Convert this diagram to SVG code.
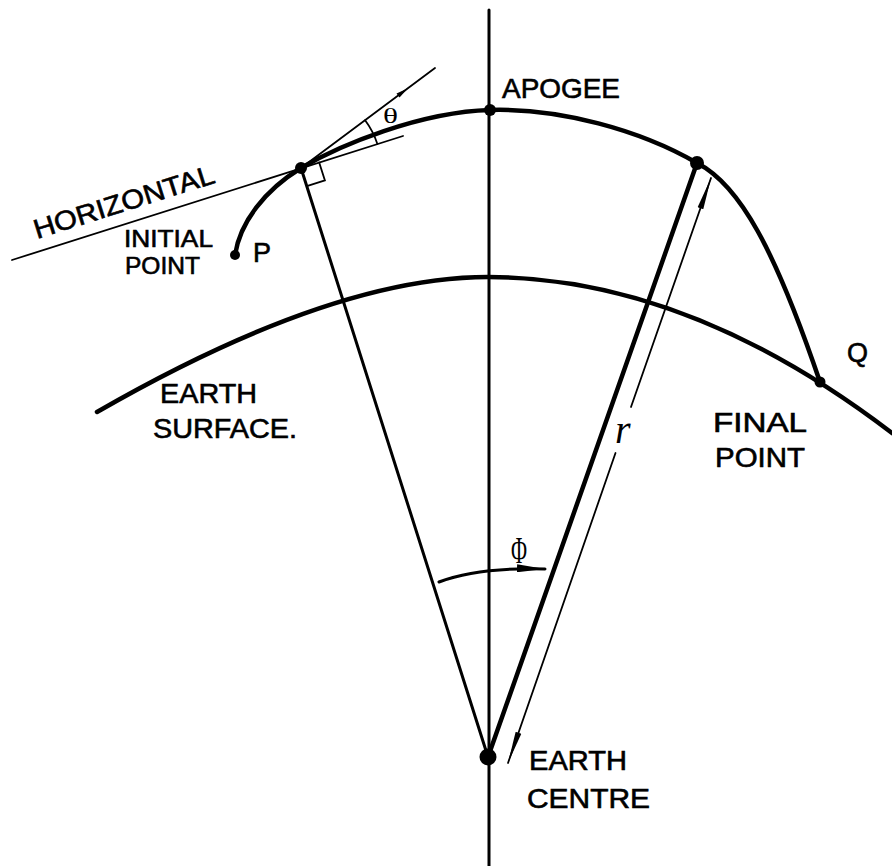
<svg xmlns="http://www.w3.org/2000/svg" width="892" height="866" viewBox="0 0 892 866">
<defs>
<style>
.t{font-family:"Liberation Sans",Arial,sans-serif;font-size:27px;fill:#000;stroke:#000;stroke-width:0.6}
.sm{font-size:23.5px}
.sym{font-family:"Liberation Serif","Times New Roman",serif;fill:#000}
.heavy{fill:none;stroke:#000;stroke-width:4.5;stroke-linecap:round;stroke-linejoin:round}
.med{fill:none;stroke:#000;stroke-width:3;stroke-linecap:round}
.thin{fill:none;stroke:#000;stroke-width:1.8;stroke-linecap:round}
.dot{fill:#000}
</style>
<marker id="arrR" viewBox="0 0 32 8" refX="32" refY="4" markerWidth="32" markerHeight="8" markerUnits="userSpaceOnUse" orient="auto-start-reverse"><path d="M0,1 L32,4 L0,7 z" fill="#000"/></marker>
<marker id="arrPhi" viewBox="0 0 28 8" refX="28" refY="4" markerWidth="28" markerHeight="8" markerUnits="userSpaceOnUse" orient="auto"><path d="M0,0 L28,4 L0,8 z" fill="#000"/></marker>
</defs>
<rect width="892" height="866" fill="#fff"/>

<g id="connectors">
  <line class="med" x1="489" y1="10" x2="489" y2="866"/>
  <path id="earth-surface" class="heavy" d="M97,412 C210,347 360,277 488,277 C650,277 790,355 892,433"/>
  <path id="trajectory" class="heavy" d="M235,255 C240,222 265,190 301,168 C340,145 420,112 490,110 C560,108 640,130 697,163 C740,185 775,250 820,382"/>
  <line class="med" x1="301" y1="168" x2="488" y2="757"/>
  <line class="heavy" stroke-width="4" x1="697" y1="163" x2="488" y2="757"/>
  <line class="thin" x1="12" y1="260" x2="403" y2="136"/>
  <line class="thin" x1="301" y1="168" x2="435" y2="68"/>
  <path d="M408,88.2 L396.5,93.6 L399.5,97.6 Z" fill="#000"/>
  <polyline class="thin" points="319.1,162.3 324.9,180.4 306.8,186.1"/>
  <path class="thin" d="M365.1,120.2 A80,80 0 0 1 377.3,143.8"/>
  <line class="thin" x1="631" y1="407" x2="711" y2="178" marker-end="url(#arrR)"/>
  <line class="thin" x1="615.5" y1="453" x2="508" y2="763" marker-end="url(#arrR)"/>
  <path class="med" d="M439,582 Q478,567 545,569" marker-end="url(#arrPhi)"/>
</g>

<g id="apogee">
  <circle class="dot" cx="490" cy="110" r="6"/>
  <text class="t" x="502" y="98" textLength="118" lengthAdjust="spacingAndGlyphs">APOGEE</text>
</g>

<g id="launch-point">
  <circle class="dot" cx="301" cy="168" r="6"/>
</g>

<g id="burnout-point">
  <circle class="dot" cx="697" cy="163" r="7"/>
</g>

<g id="initial-point">
  <circle class="dot" cx="235" cy="255" r="5"/>
  <text class="t sm" x="124" y="247" textLength="89" lengthAdjust="spacingAndGlyphs">INITIAL</text>
  <text class="t sm" x="125" y="274" textLength="75" lengthAdjust="spacingAndGlyphs">POINT</text>
  <text class="t" x="253" y="262">P</text>
</g>

<g id="final-point">
  <circle class="dot" cx="820" cy="382" r="5.5"/>
  <text class="t" x="847" y="362">Q</text>
  <text class="t" x="713" y="432" textLength="94" lengthAdjust="spacingAndGlyphs">FINAL</text>
  <text class="t" x="715" y="467" textLength="90" lengthAdjust="spacingAndGlyphs">POINT</text>
</g>

<g id="earth-centre">
  <circle class="dot" cx="488" cy="757" r="8.5"/>
  <text class="t" x="529" y="770" textLength="98" lengthAdjust="spacingAndGlyphs">EARTH</text>
  <text class="t" x="527" y="808" textLength="123" lengthAdjust="spacingAndGlyphs">CENTRE</text>
</g>

<g id="labels">
  <text class="t" transform="translate(37,239) rotate(-17.5)" textLength="188" lengthAdjust="spacingAndGlyphs">HORIZONTAL</text>
  <text class="t" x="160" y="403" textLength="97" lengthAdjust="spacingAndGlyphs">EARTH</text>
  <text class="t" x="153" y="438" textLength="144" lengthAdjust="spacingAndGlyphs">SURFACE.</text>
  <text class="sym" x="383" y="123" font-size="20" textLength="15" lengthAdjust="spacingAndGlyphs">θ</text>
  <text class="sym" x="511" y="563" font-size="38" textLength="16" lengthAdjust="spacingAndGlyphs">Φ</text>
  <text class="sym" x="615" y="443" font-size="40" font-style="italic">r</text>
</g>
</svg>
